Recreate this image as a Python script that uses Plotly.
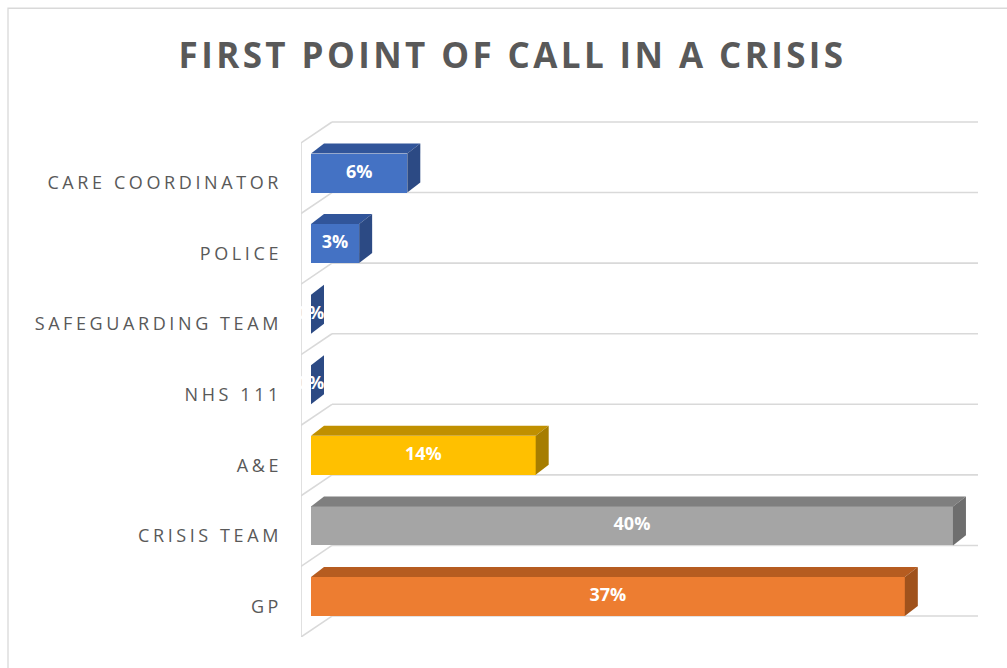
import plotly.graph_objects as go

# Survey responses, listed bottom-to-top as drawn
categories = ["GP", "CRISIS TEAM", "A&E", "NHS 111", "SAFEGUARDING TEAM", "POLICE", "CARE COORDINATOR"]
values = [37, 40, 14, 0, 0, 3, 6]
title_text = "FIRST POINT OF CALL IN A CRISIS"

# Face colours (front, top, side) per bar
front_colors = ["#ED7D31", "#A5A5A5", "#FFC000", "#4472C4", "#4472C4", "#4472C4", "#4472C4"]
top_colors = ["#B65C20", "#7F7F7F", "#C09000", "#31559A", "#31559A", "#31559A", "#31559A"]
side_colors = ["#A0521C", "#6E6E6E", "#A67D00", "#2C4A84", "#2C4A84", "#2C4A84", "#2C4A84"]

# Geometry of the pseudo-3D rendering (axis units)
BAR_H = 0.552          # front-face thickness in category units
DX, DY = 0.81, 0.142   # bar depth offset
WALL_X = -0.623        # left wall position
BACK_DX, BACK_DY = 1.93, 0.297  # back wall offset
X_MAX = 41.56
Y_MIN, Y_MAX = -0.574, 6.737
GRID = "#D9D9D9"

fig = go.Figure()

n = len(categories)
idx = list(range(n))

# Front faces
fig.add_trace(go.Bar(
    x=values, y=idx, orientation="h", width=BAR_H,
    marker=dict(color=front_colors, line=dict(width=0)),
    hoverinfo="skip", showlegend=False,
))

# Top and side faces
for i, v in enumerate(values):
    yt = i + BAR_H / 2
    yb = i - BAR_H / 2
    fig.add_trace(go.Scatter(
        x=[0, v, v + DX, DX, 0], y=[yt, yt, yt + DY, yt + DY, yt],
        fill="toself", fillcolor=top_colors[i], mode="lines",
        line=dict(width=0), hoverinfo="skip", showlegend=False,
    ))
    fig.add_trace(go.Scatter(
        x=[v, v, v + DX, v + DX, v], y=[yb, yt, yt + DY, yb + DY, yb],
        fill="toself", fillcolor=side_colors[i], mode="lines",
        line=dict(width=0), hoverinfo="skip", showlegend=False,
    ))

# Value labels centred on the front faces
fig.add_trace(go.Scatter(
    x=[v / 2 for v in values], y=idx, mode="text",
    text=[f"{v}%" for v in values],
    textfont=dict(family="Open Sans", size=18, color="white", weight="bold"),
    textposition="middle center", hoverinfo="skip", showlegend=False,
))

# Walls and gridlines: each boundary runs along the left wall then the back wall
shapes = []
bounds = [k + Y_MIN for k in range(n + 1)]
line_style = dict(color=GRID, width=1.6)
for b in bounds:
    shapes.append(dict(type="line", xref="x", yref="y", layer="below",
                       x0=WALL_X, y0=b, x1=WALL_X + BACK_DX, y1=b + BACK_DY, line=line_style))
    shapes.append(dict(type="line", xref="x", yref="y", layer="below",
                       x0=WALL_X + BACK_DX, y0=b + BACK_DY, x1=X_MAX, y1=b + BACK_DY, line=line_style))
shapes.append(dict(type="line", xref="x", yref="y", layer="below",
                   x0=WALL_X, y0=bounds[0], x1=WALL_X, y1=bounds[-1], line=line_style))

# Chart-area border (left and top edges)
shapes.append(dict(type="path", xref="paper", yref="paper", layer="below",
                   path="M -0.4328,-0.07 L -0.4328,1.2185 L 1.06,1.2185",
                   line=dict(color=GRID, width=1.3)))

fig.update_layout(
    width=1007, height=668,
    margin=dict(l=301, r=29, t=121, b=31),
    paper_bgcolor="white", plot_bgcolor="rgba(0,0,0,0)",
    shapes=shapes,
    title=dict(text=title_text, x=0.509, xref="container", xanchor="center",
               y=1 - 56 / 668, yref="container", yanchor="middle",
               font=dict(family="Open Sans", size=35, color="#595959", weight="bold")),
    xaxis=dict(range=[WALL_X, X_MAX], visible=False, fixedrange=True),
    yaxis=dict(range=[Y_MIN, Y_MAX], tickvals=idx, ticktext=categories,
               showgrid=False, zeroline=False, showline=False, ticks="",
               ticklabelshift=10, ticklabelstandoff=18,
               tickfont=dict(family="Open Sans", size=18, color="#595959"),
               fixedrange=True),
    bargap=0,
    showlegend=False,
)

# Spaced lettering for the title and category labels
spacing_js = """
var gd = document.getElementById('{plot_id}');
gd.querySelectorAll('.ytick text').forEach(function(t){ t.style.letterSpacing = '3.6px'; });
gd.querySelectorAll('.gtitle').forEach(function(t){ t.style.letterSpacing = '3.4px'; });
"""

fig.write_html("out.html", config={"displayModeBar": False}, post_script=spacing_js)
